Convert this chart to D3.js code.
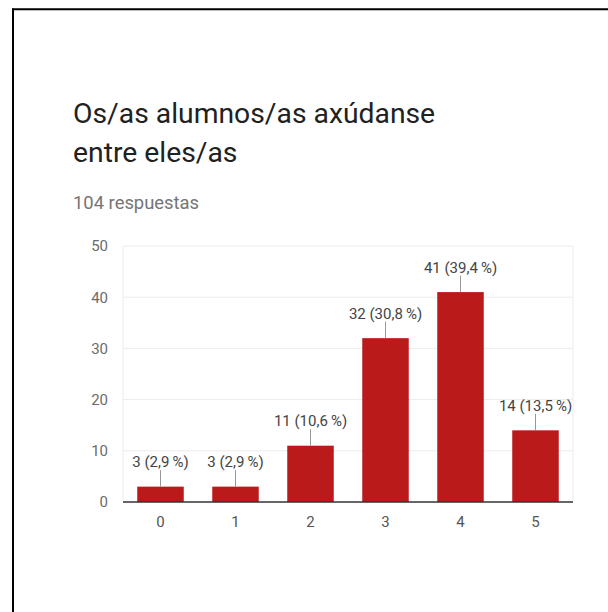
<!DOCTYPE html>
<html>
<head>
<meta charset="utf-8">
<script src="https://cdn.jsdelivr.net/npm/d3@7"></script>
<style>
  body { margin: 0; background: #fff; }
  svg { display: block; font-family: Roboto, "Noto Sans", sans-serif; }
</style>
</head>
<body>
<svg id="chart" width="608" height="612"></svg>
<script>
const categories = ["0", "1", "2", "3", "4", "5"];
const counts = [3, 3, 11, 32, 41, 14];
const percents = ["2,9", "2,9", "10,6", "30,8", "39,4", "13,5"];
const yTicks = [0, 10, 20, 30, 40, 50];

const title = ["Os/as alumnos/as axúdanse", "entre eles/as"];
const subtitle = "104 respuestas";

const svg = d3.select("#chart");
const margin = {top: 246, right: 35, bottom: 110, left: 123};
const width = 608, height = 612;

// frame lines (top + left only, like the screenshot crop)
svg.append("line").attr("x1", 12).attr("x2", 608).attr("y1", 9.25).attr("y2", 9.25)
    .attr("stroke", "#000").attr("stroke-width", 2);
svg.append("line").attr("x1", 13).attr("x2", 13).attr("y1", 8.5).attr("y2", 612)
    .attr("stroke", "#000").attr("stroke-width", 2);

// title
svg.append("g").selectAll("text").data(title).join("text")
    .attr("x", 73)
    .attr("y", (d, i) => 123 + i * 39)
    .attr("font-size", 28.3)
    .attr("fill", "#212121")
    .text(d => d);

svg.append("text")
    .attr("x", 73).attr("y", 209)
    .attr("font-size", 18.4)
    .attr("fill", "#757575")
    .text(subtitle);

const x = d3.scaleBand()
    .domain(categories)
    .range([margin.left, width - margin.right])
    .paddingInner(0.38)
    .paddingOuter(0.19);

const y = d3.scaleLinear()
    .domain([0, 50])
    .range([height - margin.bottom, margin.top]);

// grid
svg.append("g").selectAll("line").data(yTicks.filter(d => d > 0)).join("line")
    .attr("x1", margin.left).attr("x2", width - margin.right)
    .attr("y1", d => y(d)).attr("y2", d => y(d))
    .attr("stroke", "#ececec").attr("stroke-width", 1);
svg.append("g").selectAll("line").data([margin.left, width - margin.right]).join("line")
    .attr("x1", d => d).attr("x2", d => d)
    .attr("y1", y(50)).attr("y2", y(0))
    .attr("stroke", "#ececec").attr("stroke-width", 1);

// y labels
svg.append("g").selectAll("text").data(yTicks).join("text")
    .attr("x", 108).attr("y", d => y(d))
    .attr("dy", "0.36em")
    .attr("text-anchor", "end")
    .attr("font-size", 15)
    .attr("fill", "#6b6b6b")
    .text(d => d);

// bars
svg.append("g").selectAll("rect").data(counts).join("rect")
    .attr("x", (d, i) => x(categories[i]))
    .attr("y", d => y(d))
    .attr("width", x.bandwidth())
    .attr("height", d => y(0) - y(d))
    .attr("fill", "#bb1a1a");

// baseline
svg.append("line")
    .attr("x1", margin.left).attr("x2", width - margin.right)
    .attr("y1", y(0)).attr("y2", y(0))
    .attr("stroke", "#333").attr("stroke-width", 1.5);

// x labels
svg.append("g").selectAll("text").data(categories).join("text")
    .attr("x", d => x(d) + x.bandwidth() / 2)
    .attr("y", 527)
    .attr("text-anchor", "middle")
    .attr("font-size", 15)
    .attr("fill", "#555")
    .text(d => d);

// value annotations with leader lines
const ann = svg.append("g");
ann.selectAll("line").data(counts).join("line")
    .attr("x1", (d, i) => x(categories[i]) + x.bandwidth() / 2)
    .attr("x2", (d, i) => x(categories[i]) + x.bandwidth() / 2)
    .attr("y1", d => y(d))
    .attr("y2", d => y(d) - 16.5)
    .attr("stroke", "#999").attr("stroke-width", 1);
ann.selectAll("text").data(counts).join("text")
    .attr("x", (d, i) => x(categories[i]) + x.bandwidth() / 2)
    .attr("y", d => y(d) - 19.5)
    .attr("text-anchor", "middle")
    .attr("font-size", 15)
    .attr("fill", "#444")
    .text((d, i) => d + " (" + percents[i] + "\u2009%)");
</script>
</body>
</html>
